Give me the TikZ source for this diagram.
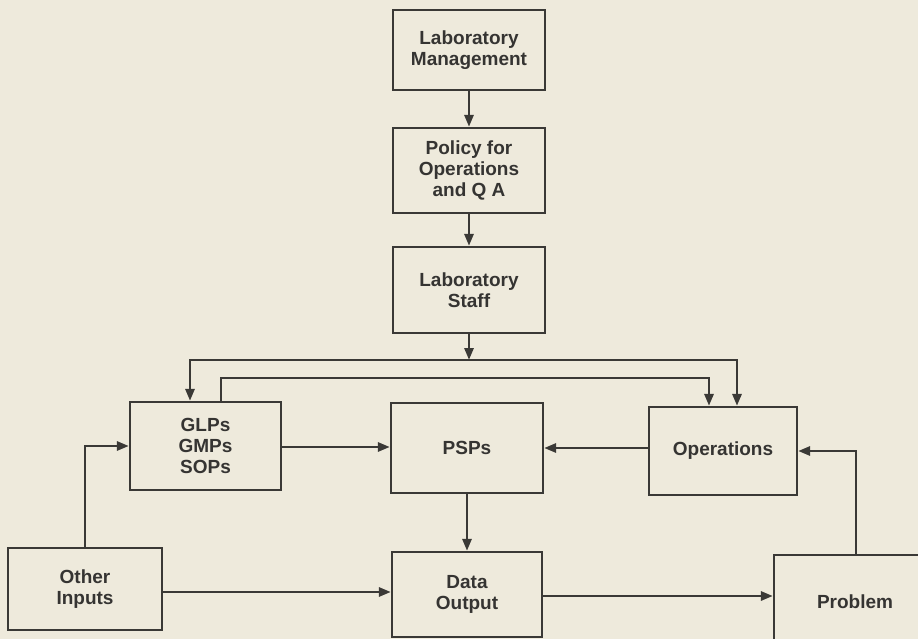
\documentclass[tikz,border=0pt]{standalone}
\usepackage{fontspec}
\setmainfont{Liberation Sans}
\usetikzlibrary{arrows.meta,calc}
\definecolor{paper}{HTML}{EEEADC}
\definecolor{ink}{HTML}{3A3936}
\definecolor{textink}{HTML}{353432}
\tikzset{
  box/.style={draw=ink, line width=2.2pt, inner sep=0pt, align=center,
    text=textink, font=\bfseries\fontsize{19}{21}\selectfont},
  conn/.style={draw=ink, line width=2.8pt,
    -{Triangle[length=12pt,width=9pt]}},
  conn2/.style={draw=ink, line width=2.8pt,
    {Triangle[length=12pt,width=9pt]}-{Triangle[length=12pt,width=9pt]}}
}
\begin{document}
\begin{tikzpicture}[x=1pt,y=-1pt]
  \fill[paper] (0,0) rectangle (918,639);
  \useasboundingbox (0,0) rectangle (918,639);
  \clip (0,0) rectangle (918,639);

  % management chain
  \node[box, minimum width=152pt, minimum height=80pt] (mgmt) at (469,50)
    {Laboratory\\Management};
  \node[box, minimum width=152pt, minimum height=85pt] (policy) at (469,170.5)
    {Policy for\\Operations\\and Q A};
  \node[box, minimum width=152pt, minimum height=86pt] (staff) at (469,290)
    {Laboratory\\Staff};

  % middle row
  \node[box, minimum width=151pt, minimum height=88pt] (glps) at (205.5,446)
    {GLPs\\GMPs\\SOPs};
  \node[box, minimum width=152pt, minimum height=90pt] (psps) at (467,448)
    {PSPs};
  \node[box, minimum width=148pt, minimum height=88pt] (ops) at (723,451)
    {Operations};

  % bottom row
  \node[box, minimum width=154pt, minimum height=82pt] (other) at (85,589)
    {Other\\Inputs};
  \node[box, minimum width=150pt, minimum height=85pt] (data) at (467,594.5)
    {Data\\Output};
  \node[box, minimum width=162pt, minimum height=100pt] (problem) at (855,605)
    {\raisebox{6pt}{Problem}};

  % distribution bus below the staff box
  \coordinate (busL) at (190,360);
  \coordinate (busR) at (737,360);
  \draw[conn] (mgmt) -- (policy);
  \draw[conn] (policy) -- (staff);
  \draw[conn] (staff.south) -- (staff.south |- busL);
  \draw[conn2] (busL |- glps.north) -- (busL) -- (busR) -- (busR |- ops.north);
  \draw[conn] ([xshift=15.5pt]glps.north) -- ++(0,-23) -| ([xshift=-14pt]ops.north);

  % flows between the boxes
  \draw[conn] (glps.east |- 0,447) -- (psps.west |- 0,447);
  \draw[conn] (ops.west |- 0,448) -- (psps.east |- 0,448);
  \draw[conn] (psps.south) -- (data.north);
  \draw[conn] (other.north) |- (glps.west);
  \draw[conn] (other.east |- 0,592) -- (data.west |- 0,592);
  \draw[conn] (data.east |- 0,596) -- (problem.west |- 0,596);
  \draw[conn] ([xshift=1pt]problem.north) |- (ops.east);
\end{tikzpicture}
\end{document}
